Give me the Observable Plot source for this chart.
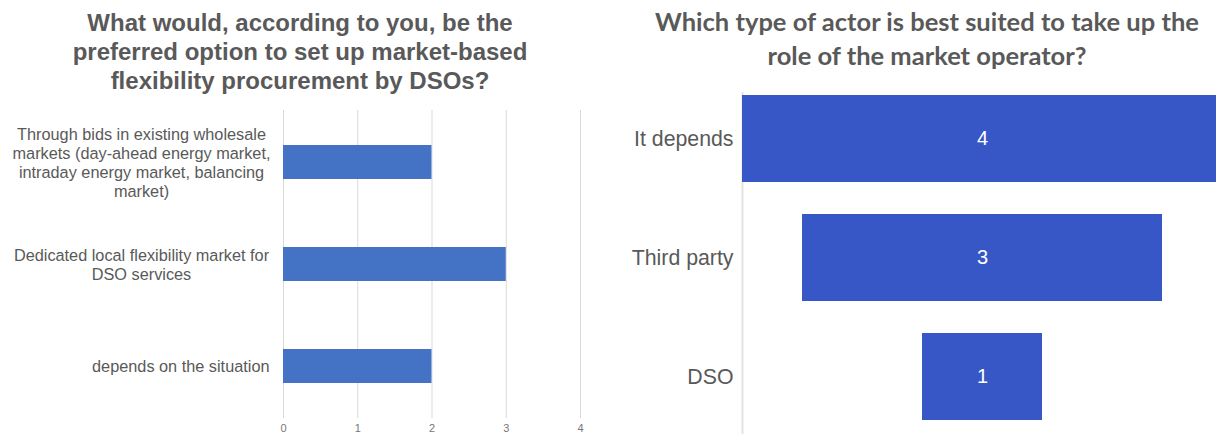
<!DOCTYPE html>
<html>
<head>
<meta charset="utf-8">
<script src="https://cdn.jsdelivr.net/npm/d3@7"></script>
<script src="https://cdn.jsdelivr.net/npm/@observablehq/plot@0.6"></script>
<style>
  html, body { margin: 0; padding: 0; background: #fff; }
  body { width: 1216px; height: 434px; position: relative; overflow: hidden; }
  .title { position: absolute; text-align: center; color: #595959; font-weight: bold; white-space: pre; }
  #t1 { left: 0; top: 8px; width: 600px; font: bold 24px "Liberation Sans", Arial, sans-serif; line-height: 29px; }
  #t2 { left: 600px; top: 4px; width: 654px; font: bold 25.5px Lato, sans-serif; line-height: 34px; }
  #p1 { position: absolute; left: 0; top: 100px; width: 600px; }
  #p2 { position: absolute; left: 600px; top: 92px; width: 622px; }
  #p1 svg, #p2 svg { max-width: none; }
</style>
</head>
<body>
<div id="t1" class="title">What would, according to you, be the
preferred option to set up market-based
flexibility procurement by DSOs?</div>
<div id="t2" class="title">Which type of actor is best suited to take up the
role of the market operator?</div>
<div id="p1"></div>
<div id="p2"></div>
<script>
// Left chart data
const leftCategories = [
  "Through bids in existing wholesale\nmarkets (day-ahead energy market,\nintraday energy market, balancing\nmarket)",
  "Dedicated local flexibility market for\nDSO services",
  "depends on the situation"
];
const leftValues = [2, 3, 2];
const leftTicks = [0, 1, 2, 3, 4];

// Right chart data
const rightCategories = ["It depends", "Third party", "DSO"];
const rightValues = [4, 3, 1];

const leftData = leftCategories.map((c, i) => ({c, v: leftValues[i]}));
const rightData = rightCategories.map((c, i) => ({c, v: rightValues[i]}));

const multiLine = leftCategories.filter(c => c.includes("\n"));
const singleLine = leftCategories.filter(c => !c.includes("\n"));

const gray = "#595959";

const left = Plot.plot({
  width: 600, height: 334,
  marginLeft: 283, marginRight: 20, marginTop: 10, marginBottom: 16,
  style: {fontFamily: "'Liberation Sans', Arial, sans-serif", background: "white"},
  x: {domain: [0, 4], label: null},
  y: {domain: leftCategories, padding: 0, label: null},
  marks: [
    Plot.gridX(leftTicks, {stroke: "#d9d9d9", strokeOpacity: 1}),
    Plot.barX(leftData, {x: "v", y: "c", fill: "#4472C4", insetTop: 34, insetBottom: 34}),
    Plot.axisX(leftTicks, {tickSize: 0, tickPadding: 6, fontSize: 11, color: "#777", label: null}),
    Plot.axisY(multiLine, {tickSize: 0, tickPadding: 14, textAnchor: "middle", dx: -128, fontSize: 16.3, lineHeight: 1.17, color: gray, label: null}),
    Plot.axisY(singleLine, {tickSize: 0, tickPadding: 14, textAnchor: "end", fontSize: 16.3, color: gray, label: null})
  ]
});
document.getElementById("p1").appendChild(left);

const right = Plot.plot({
  width: 622, height: 342,
  marginLeft: 142, marginRight: 0, marginTop: 0, marginBottom: 0,
  style: {fontFamily: "'Liberation Sans', Arial, sans-serif", background: "white"},
  x: {domain: [-2, 2], axis: null},
  y: {domain: rightCategories, range: [-13.5, 343.5], padding: 0, label: null},
  marks: [
    Plot.ruleX([-2], {stroke: "#e3e3e3", strokeWidth: 2}),
    Plot.barX(rightData, {x1: d => -d.v / 2, x2: d => d.v / 2, y: "c", fill: "#3757C7", insetTop: 16, insetBottom: 16}),
    Plot.text(rightData, {x: 0, y: "c", text: d => String(d.v), fill: "white", fontSize: 20}),
    Plot.axisY({tickSize: 0, tickPadding: 9, fontSize: 21.3, color: gray, label: null})
  ]
});
document.getElementById("p2").appendChild(right);
</script>
</body>
</html>
